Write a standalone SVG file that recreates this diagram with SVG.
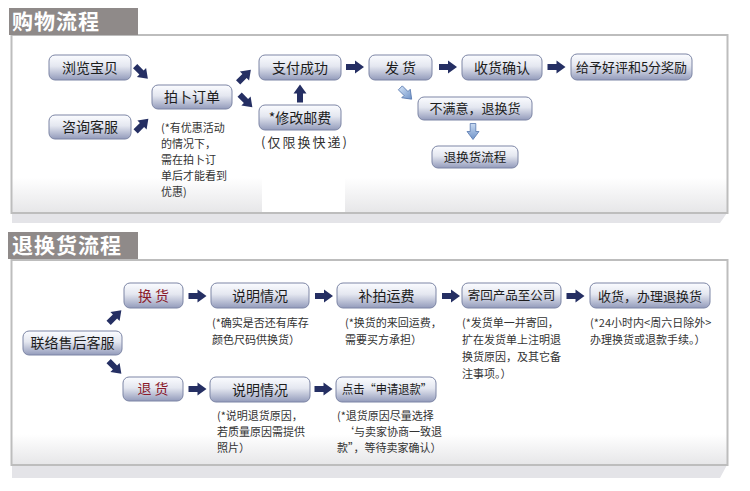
<svg xmlns="http://www.w3.org/2000/svg" width="750" height="491" viewBox="0 0 750 491">
<defs>
<linearGradient id="btn" x1="0" y1="0" x2="0" y2="1">
<stop offset="0" stop-color="#fbfcff"/>
<stop offset="0.45" stop-color="#e4e7f0"/>
<stop offset="1" stop-color="#939bbb"/>
</linearGradient>
<linearGradient id="panel1" x1="0" y1="0" x2="0" y2="1">
<stop offset="0" stop-color="#ffffff"/>
<stop offset="0.8" stop-color="#ffffff"/>
<stop offset="1" stop-color="#e6e6e8"/>
</linearGradient>
<linearGradient id="panel2" x1="0" y1="0" x2="0" y2="1">
<stop offset="0" stop-color="#ffffff"/>
<stop offset="0.85" stop-color="#ffffff"/>
<stop offset="1" stop-color="#e6e6e8"/>
</linearGradient>
<linearGradient id="lb" x1="0" y1="0" x2="1" y2="0">
<stop offset="0" stop-color="#c9dbf2"/>
<stop offset="1" stop-color="#6f93c8"/>
</linearGradient>
<path id="arr" d="M-9,-3 H0 V-6.5 L9,0 L0,6.5 V3 H-9 Z"/>
<path id="arrs" d="M-8,-2.8 H0 V-6 L8,0 L0,6 V2.8 H-8 Z"/>
</defs>
<style>
.btn{fill:url(#btn);stroke:#7c85a5;stroke-width:1}
.t{font-family:"Noto Sans CJK SC","Noto Sans",sans-serif;fill:#1c1c1c;text-anchor:middle}
.red{fill:#8b1a2b}
.n{font-family:"Noto Sans CJK SC","Noto Sans",sans-serif;fill:#333;font-size:11px}
.ttl{font-family:"Noto Sans CJK SC",sans-serif;fill:#ffffff;font-size:21px;font-weight:bold;letter-spacing:1px}
.a{fill:#252f63}
.al{fill:url(#lb);stroke:#5576ad;stroke-width:0.8}
</style>

<!-- Section 1 panel -->
<g id="panel-shopping">
<polygon points="12,213 727,213 720,223 12,223" fill="#e4e4e8"/>
<rect x="11.5" y="35" width="716" height="178" fill="url(#panel1)" stroke="#bdbdbd" stroke-width="2"/>
<rect x="262" y="150" width="83" height="62" fill="#ffffff"/>
<rect x="9" y="8" width="129" height="27" fill="#8f8a89"/>
<text class="ttl" x="12" y="29">购物流程</text>
</g>

<!-- Section 2 panel -->
<g id="panel-return">
<polygon points="12,465 727,465 720,478 12,478" fill="#e4e4e8"/>
<rect x="11.5" y="260" width="716" height="205" fill="url(#panel2)" stroke="#bdbdbd" stroke-width="2"/>
<rect x="8" y="232" width="130" height="27" fill="#8f8a89"/>
<text class="ttl" x="12" y="253">退换货流程</text>
</g>

<!-- Connectors -->
<g id="connectors">
<use href="#arr" class="a" transform="translate(141.5,72.5) rotate(45)"/>
<use href="#arr" class="a" transform="translate(142,125) rotate(-45)"/>
<use href="#arr" class="a" transform="translate(244.5,76) rotate(-45)"/>
<use href="#arr" class="a" transform="translate(246,101) rotate(45)"/>
<use href="#arr" class="a" transform="translate(300,93.5) rotate(-90)"/>
<use href="#arr" class="a" transform="translate(355,67)"/>
<use href="#arr" class="a" transform="translate(448,67)"/>
<use href="#arr" class="a" transform="translate(556.5,67)"/>
<use href="#arrs" class="al" transform="translate(406,93.5) rotate(45)"/>
<use href="#arrs" class="al" transform="translate(473,131.5) rotate(90)"/>
<use href="#arr" class="a" transform="translate(115,316.5) rotate(-45)"/>
<use href="#arr" class="a" transform="translate(115,367.5) rotate(45)"/>
<use href="#arr" class="a" transform="translate(197.5,296)"/>
<use href="#arr" class="a" transform="translate(324,296)"/>
<use href="#arr" class="a" transform="translate(451,296)"/>
<use href="#arr" class="a" transform="translate(575.5,296)"/>
<use href="#arr" class="a" transform="translate(197.5,389)"/>
<use href="#arr" class="a" transform="translate(323.5,389)"/>
</g>

<!-- Section 1 nodes -->
<g id="n-browse"><rect class="btn" x="49" y="55" width="82" height="25" rx="6"/><text class="t" x="90" y="72.5" font-size="14">浏览宝贝</text></g>
<g id="n-consult"><rect class="btn" x="49" y="115" width="82" height="24" rx="6"/><text class="t" x="90" y="132" font-size="14">咨询客服</text></g>
<g id="n-order"><rect class="btn" x="152" y="85" width="80" height="24" rx="6"/><text class="t" x="192" y="102" font-size="14">拍卜订单</text></g>
<g id="n-order-note">
<text class="n" x="161" y="132">(*有优惠活动</text>
<text class="n" x="161" y="148">的情况下，</text>
<text class="n" x="161" y="164">需在拍卜订</text>
<text class="n" x="161" y="180">单后才能看到</text>
<text class="n" x="161" y="196">优惠)</text>
</g>
<g id="n-pay"><rect class="btn" x="259" y="55" width="82" height="25" rx="6"/><text class="t" x="300" y="72.5" font-size="14">支付成功</text></g>
<g id="n-postage"><rect class="btn" x="259" y="105" width="82" height="25" rx="6"/><text class="t" x="300" y="122.5" font-size="14">*修改邮费</text></g>
<g id="n-postage-note"><text class="n" x="261" y="147" style="font-size:13px;letter-spacing:2px">(仅限换快递)</text></g>
<g id="n-ship"><rect class="btn" x="369" y="55" width="63" height="25" rx="6"/><text class="t" x="400.5" y="72.5" font-size="14">发 货</text></g>
<g id="n-receive"><rect class="btn" x="462" y="55" width="80" height="25" rx="6"/><text class="t" x="502" y="72.5" font-size="14">收货确认</text></g>
<g id="n-review"><rect class="btn" x="571" y="54" width="121" height="26" rx="6"/><text class="t" x="631.5" y="71.5" font-size="13">给予好评和5分奖励</text></g>
<g id="n-unhappy"><rect class="btn" x="418" y="97" width="114" height="23" rx="6"/><text class="t" x="475" y="113" font-size="13">不满意，退换货</text></g>
<g id="n-returnflow"><rect class="btn" x="432" y="146" width="86" height="22" rx="6"/><text class="t" x="475" y="161.5" font-size="12.5">退换货流程</text></g>

<!-- Section 2 nodes -->
<g id="n-service"><rect class="btn" x="23" y="331" width="99" height="24" rx="6"/><text class="t" x="72.5" y="348" font-size="14">联络售后客服</text></g>
<g id="n-exchange"><rect class="btn" x="124" y="283" width="59" height="25" rx="6"/><text class="t red" x="153.5" y="300.5" font-size="14">换 货</text></g>
<g id="n-refund"><rect class="btn" x="123" y="377" width="60" height="24" rx="6"/><text class="t red" x="153" y="394" font-size="14">退 货</text></g>
<g id="n-explain1"><rect class="btn" x="211" y="283" width="98" height="25" rx="6"/><text class="t" x="260" y="300.5" font-size="14">说明情况</text></g>
<g id="n-explain1-note">
<text class="n" x="212" y="327">(*确实是否还有库存</text>
<text class="n" x="212" y="344">颜色尺码供换货）</text>
</g>
<g id="n-freight"><rect class="btn" x="337" y="283" width="99" height="25" rx="6"/><text class="t" x="386.5" y="300.5" font-size="14">补拍运费</text></g>
<g id="n-freight-note">
<text class="n" x="345" y="327">(*换货的来回运费，</text>
<text class="n" x="345" y="344">需要买方承担）</text>
</g>
<g id="n-sendback"><rect class="btn" x="462" y="283" width="99" height="25" rx="6"/><text class="t" x="511.5" y="300" font-size="12.5">寄回产品至公司</text></g>
<g id="n-sendback-note">
<text class="n" x="462" y="327">(*发货单一并寄回，</text>
<text class="n" x="462" y="344">扩在发货单上注明退</text>
<text class="n" x="462" y="361">换货原因，及其它备</text>
<text class="n" x="462" y="378">注事项。）</text>
</g>
<g id="n-handle"><rect class="btn" x="590" y="283" width="120" height="25" rx="6"/><text class="t" x="650" y="300.5" font-size="13">收货，办理退换货</text></g>
<g id="n-handle-note">
<text class="n" x="590" y="327">(*24小时内&lt;周六日除外&gt;</text>
<text class="n" x="590" y="344">办理换货或退款手续。）</text>
</g>
<g id="n-explain2"><rect class="btn" x="210" y="377" width="100" height="25" rx="6"/><text class="t" x="260" y="394.5" font-size="14">说明情况</text></g>
<g id="n-explain2-note">
<text class="n" x="217" y="420">(*说明退货原因，</text>
<text class="n" x="217" y="436">若质量原因需提供</text>
<text class="n" x="217" y="452">照片）</text>
</g>
<g id="n-apply"><rect class="btn" x="336" y="377" width="100" height="25" rx="6"/><text class="t" x="387" y="394" font-size="12.5" textLength="90" lengthAdjust="spacingAndGlyphs">点击“申请退款”</text></g>
<g id="n-apply-note">
<text class="n" x="337" y="420">(*退货原因尽量选择</text>
<text class="n" x="343" y="436">‘与卖家协商一致退</text>
<text class="n" x="337" y="452">款”，等待卖家确认）</text>
</g>
</svg>
